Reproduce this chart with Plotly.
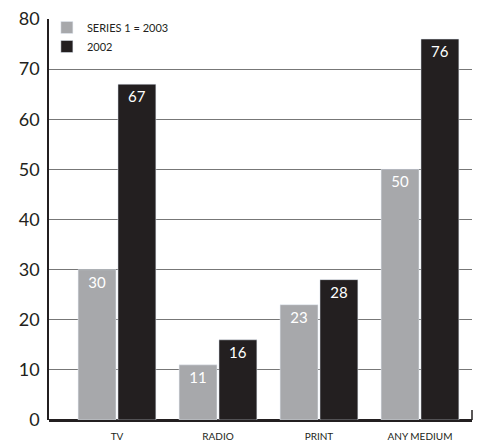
import plotly.graph_objects as go

# Data
categories = ['TV', 'RADIO', 'PRINT', 'ANY MEDIUM']
values_2003 = [30, 11, 23, 50]
values_2002 = [67, 16, 28, 76]

gray = '#a7a8ab'
black = '#231f20'

fig = go.Figure()
fig.add_trace(go.Bar(
    x=categories, y=values_2003, name='SERIES 1 = 2003',
    marker_color=gray, text=values_2003, textposition='inside',
    insidetextanchor='end', textfont=dict(color='white', size=15),
))
fig.add_trace(go.Bar(
    x=categories, y=values_2002, name='2002',
    marker_color=black, text=values_2002, textposition='inside',
    insidetextanchor='end', textfont=dict(color='white', size=15),
))

fig.update_layout(
    width=479, height=446,
    margin=dict(l=49, r=7, t=19, b=26),
    barmode='group', bargap=0.21, bargroupgap=0.05,
    plot_bgcolor='white', paper_bgcolor='white',
    font=dict(family='Lato, sans-serif', color=black),
    showlegend=True,
    legend=dict(x=-0.005, y=1.015, xanchor='left', yanchor='top',
                font=dict(size=11), bgcolor='rgba(0,0,0,0)',
                itemwidth=30, tracegroupgap=0),
    uniformtext=dict(mode='show', minsize=14),
)

fig.update_xaxes(
    range=[-0.673, 3.515], showgrid=False, showline=False, automargin=False,
    ticks='', tickfont=dict(size=10), ticklabelstandoff=9,
)
fig.update_yaxes(
    range=[0, 80], dtick=10, showgrid=True, gridcolor='#777', gridwidth=1,
    showline=True, linecolor=black, linewidth=1.5, zeroline=True,
    zerolinecolor=black, zerolinewidth=2.5, ticks='', automargin=False,
    tickfont=dict(size=18), ticklabelstandoff=4,
)

# small end tick at bottom right of the baseline
fig.add_shape(type='line', xref='paper', yref='paper',
              x0=1, x1=1, y0=0, y1=0.025,
              line=dict(color=black, width=1.5))

fig.write_html("out.html", config={'displayModeBar': False},
               post_script="document.body.style.margin='0';")
